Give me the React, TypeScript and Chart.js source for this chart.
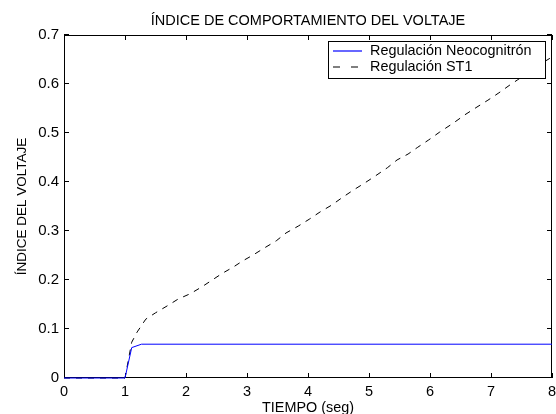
import React, { useEffect, useRef } from 'react';
import { Chart, registerables } from 'chart.js';

Chart.register(...registerables);

const chartTitle = 'ÍNDICE DE COMPORTAMIENTO DEL VOLTAJE';
const xAxisTitle = 'TIEMPO (seg)';
const yAxisTitle = 'ÍNDICE DEL VOLTAJE';
const seriesNames = ['Regulación Neocognitrón', 'Regulación ST1'];

const xTickValues = [0, 1, 2, 3, 4, 5, 6, 7, 8];
const xTickLabels = ['0', '1', '2', '3', '4', '5', '6', '7', '8'];
const yTickValues = [0, 0.1, 0.2, 0.3, 0.4, 0.5, 0.6, 0.7];
const yTickLabels = ['0', '0.1', '0.2', '0.3', '0.4', '0.5', '0.6', '0.7'];

const neoTime = [0, 1.0, 1.11, 1.27, 8];
const neoValue = [0, 0, 0.062, 0.069, 0.069];

const st1Time = [
  0, 1.0, 1.11, 1.2, 1.34, 1.5, 1.69, 1.87, 2.07, 2.26, 2.43, 2.6, 2.77, 2.93,
  3.1, 3.28, 3.48, 3.64, 3.84, 4.02, 4.2, 4.39, 4.57, 4.75, 4.93, 5.1, 5.3,
  5.46, 5.64, 5.8, 5.98, 6.16, 6.38, 6.57, 6.77, 6.95, 7.13, 7.31, 7.43, 7.6,
  7.8, 8.0,
];
const st1Value = [
  0, 0, 0.073, 0.094, 0.12, 0.133, 0.147, 0.161, 0.172, 0.186, 0.2, 0.214,
  0.226, 0.239, 0.251, 0.265, 0.28, 0.296, 0.31, 0.324, 0.339, 0.353, 0.369,
  0.384, 0.398, 0.412, 0.429, 0.445, 0.457, 0.471, 0.486, 0.502, 0.52, 0.537,
  0.553, 0.567, 0.582, 0.598, 0.608, 0.622, 0.64, 0.655,
];

const FONT = '"Liberation Sans", Arial, sans-serif';

const framePlugin = {
  id: 'matlabFrame',
  beforeDatasetsDraw(chart: any) {
    const { ctx, chartArea, scales } = chart;
    const { left, right, top, bottom } = chartArea;
    const x = scales.x;
    const y = scales.y;
    const L = 5;
    ctx.save();
    ctx.strokeStyle = '#000';
    ctx.lineWidth = 1;
    ctx.beginPath();
    xTickValues.forEach((v) => {
      const px = Math.round(x.getPixelForValue(v)) + 0.5;
      ctx.moveTo(px, bottom);
      ctx.lineTo(px, bottom - L);
      ctx.moveTo(px, top);
      ctx.lineTo(px, top + L);
    });
    yTickValues.forEach((v) => {
      const py = Math.round(y.getPixelForValue(v)) - 0.5;
      ctx.moveTo(left, py);
      ctx.lineTo(left + L, py);
      ctx.moveTo(right, py);
      ctx.lineTo(right - L, py);
    });
    ctx.stroke();
    ctx.strokeRect(Math.round(left) + 0.5, Math.round(top) + 0.5, Math.round(right - left) - 1, Math.round(bottom - top) - 1);
    ctx.restore();
  },
};

const titlePlugin = {
  id: 'axesTitle',
  afterDraw(chart: any) {
    const { ctx, chartArea } = chart;
    ctx.save();
    ctx.fillStyle = '#000';
    ctx.textAlign = 'center';
    ctx.textBaseline = 'middle';
    ctx.font = `14.5px ${FONT}`;
    ctx.fillText(chartTitle, (chartArea.left + chartArea.right) / 2, chartArea.top - 14);
    ctx.restore();
  },
};

const legendPlugin = {
  id: 'boxLegend',
  afterDraw(chart: any) {
    const { ctx, chartArea } = chart;
    const w = 217;
    const h = 37;
    const bx = Math.round(chartArea.right) - 7 - w;
    const by = Math.round(chartArea.top) + 6;
    ctx.save();
    ctx.fillStyle = '#fff';
    ctx.fillRect(bx, by, w, h);
    ctx.strokeStyle = '#000';
    ctx.lineWidth = 1;
    ctx.strokeRect(bx + 0.5, by + 0.5, w, h);
    ctx.font = `14.4px ${FONT}`;
    ctx.textBaseline = 'middle';
    ctx.textAlign = 'left';
    chart.data.datasets.forEach((ds: any, i: number) => {
      const cy = by + 10 + i * 16;
      ctx.beginPath();
      ctx.strokeStyle = ds.borderColor;
      ctx.lineWidth = 1.2;
      ctx.setLineDash(ds.borderDash ? [7, 11] : []);
      ctx.moveTo(bx + 5, cy);
      ctx.lineTo(bx + 34, cy);
      ctx.stroke();
      ctx.setLineDash([]);
      ctx.fillStyle = '#000';
      ctx.fillText(ds.label, bx + 42, cy);
    });
    ctx.restore();
  },
};

export default function App() {
  const ref = useRef<HTMLCanvasElement | null>(null);

  useEffect(() => {
    if (!ref.current) return;
    const neoData = neoTime.map((t, i) => ({ x: t, y: neoValue[i] }));
    const st1Data = st1Time.map((t, i) => ({ x: t, y: st1Value[i] }));
    const chart = new Chart(ref.current, {
      type: 'line',
      data: {
        datasets: [
          {
            label: seriesNames[0],
            data: neoData,
            borderColor: '#0000ff',
            borderWidth: 1,
            pointRadius: 0,
            tension: 0,
            fill: false,
            clip: 3,
          },
          {
            label: seriesNames[1],
            data: st1Data,
            borderColor: '#000000',
            borderWidth: 1,
            borderDash: [6, 6],
            pointRadius: 0,
            tension: 0,
            fill: false,
            clip: 3,
          },
        ],
      },
      options: {
        animation: false,
        responsive: false,
        events: [],
        layout: { padding: { left: 0, right: 4, top: 35, bottom: 0 } },
        plugins: {
          legend: { display: false },
          tooltip: { enabled: false },
          title: { display: false },
        },
        scales: {
          x: {
            type: 'linear',
            min: 0,
            max: 8,
            afterFit: (s: any) => {
              s.height = 36;
              s.paddingLeft = 0;
              s.paddingRight = 0;
            },
            afterBuildTicks: (s: any) => {
              s.ticks = xTickValues.map((v) => ({ value: v }));
            },
            ticks: {
              color: '#000',
              font: { family: FONT, size: 14.5 },
              padding: 5,
              maxRotation: 0,
              autoSkip: false,
              callback: (v: any) => {
                const i = xTickValues.indexOf(Number(v));
                return i >= 0 ? xTickLabels[i] : '';
              },
            },
            grid: { display: false, drawTicks: false },
            border: { display: false },
            title: {
              display: true,
              text: xAxisTitle,
              color: '#000',
              font: { family: FONT, size: 14.4, lineHeight: 0.84 },
              padding: { top: 0, bottom: 0 },
            },
          },
          y: {
            type: 'linear',
            min: 0,
            max: 0.7,
            afterFit: (s: any) => {
              s.width = 64;
              s.paddingTop = 0;
              s.paddingBottom = 0;
            },
            afterBuildTicks: (s: any) => {
              s.ticks = yTickValues.map((v) => ({ value: v }));
            },
            ticks: {
              color: '#000',
              font: { family: FONT, size: 15 },
              padding: 5,
              autoSkip: false,
              callback: (v: any) => {
                const i = yTickValues.findIndex((t) => Math.abs(t - Number(v)) < 1e-9);
                return i >= 0 ? yTickLabels[i] : '';
              },
            },
            grid: { display: false, drawTicks: false },
            border: { display: false },
            title: {
              display: true,
              text: yAxisTitle,
              color: '#000',
              font: { family: FONT, size: 13.5 },
              padding: { top: 14.4, bottom: 0 },
            },
          },
        },
      },
      plugins: [framePlugin, titlePlugin, legendPlugin],
    });
    return () => chart.destroy();
  }, []);

  return (
    <div style={{ position: 'absolute', left: 0, top: 0, width: 556, height: 414, background: '#fff' }}>
      <canvas ref={ref} width={556} height={414} style={{ display: 'block' }} />
    </div>
  );
}
